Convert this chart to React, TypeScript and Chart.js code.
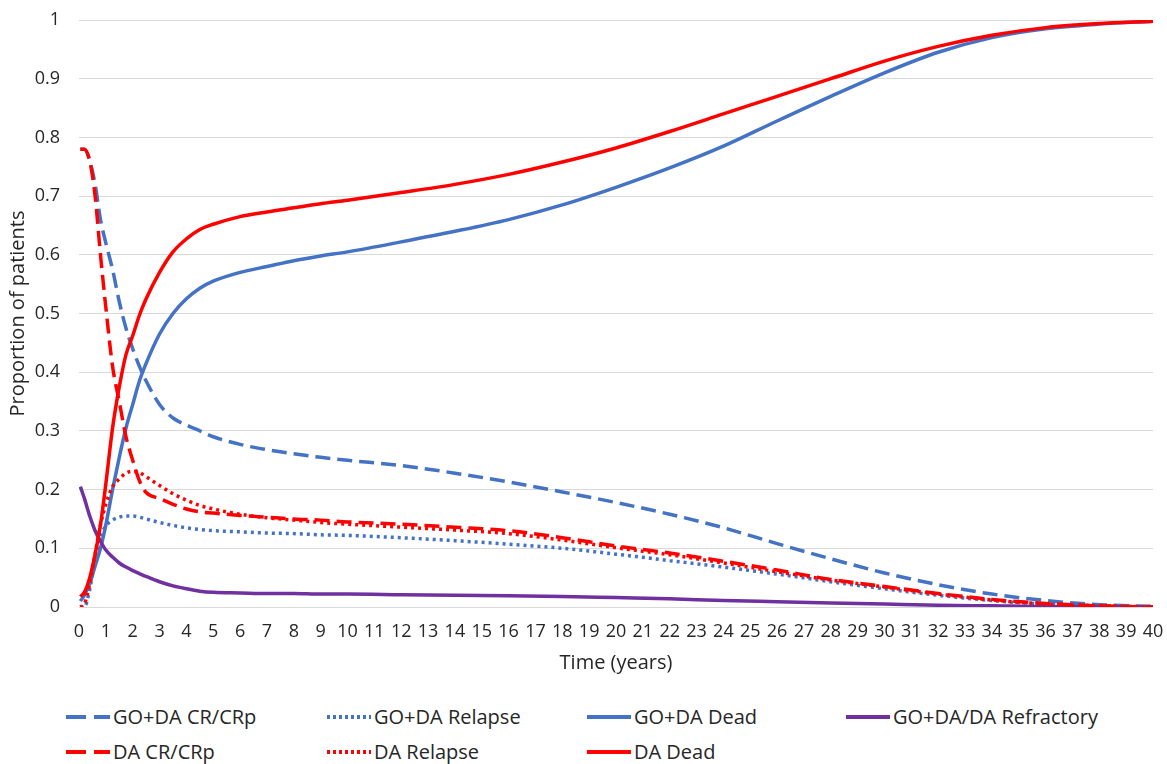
import React, { useEffect, useRef } from "react";
import { Chart, registerables } from "chart.js";

Chart.register(...registerables);

const times = [0.05, 0.2, 0.4, 0.6, 0.8, 1, 1.25, 1.5, 1.75, 2, 2.25, 2.5, 3, 3.5, 4, 4.5, 5, 6, 7, 8, 9, 10, 12, 14, 16, 18, 20, 22, 24, 26, 28, 30, 32, 34, 36, 38, 40];

const goCR = [0.78, 0.78, 0.76, 0.72, 0.66, 0.62, 0.575, 0.52, 0.475, 0.44, 0.41, 0.385, 0.345, 0.322, 0.31, 0.3, 0.29, 0.277, 0.268, 0.261, 0.255, 0.25, 0.241, 0.228, 0.213, 0.196, 0.178, 0.158, 0.135, 0.108, 0.082, 0.058, 0.038, 0.022, 0.011, 0.004, 0.001];
const goRelapse = [0, 0, 0.03, 0.08, 0.12, 0.138, 0.148, 0.153, 0.155, 0.155, 0.153, 0.15, 0.144, 0.139, 0.135, 0.132, 0.13, 0.128, 0.126, 0.125, 0.123, 0.122, 0.118, 0.113, 0.107, 0.1, 0.09, 0.079, 0.068, 0.056, 0.043, 0.031, 0.02, 0.011, 0.005, 0.002, 0];
const goDead = [0.01, 0.02, 0.04, 0.07, 0.1, 0.14, 0.2, 0.255, 0.305, 0.345, 0.385, 0.415, 0.465, 0.5, 0.525, 0.543, 0.555, 0.57, 0.58, 0.59, 0.598, 0.605, 0.622, 0.64, 0.66, 0.685, 0.715, 0.748, 0.785, 0.828, 0.87, 0.91, 0.945, 0.97, 0.985, 0.993, 0.998];
const refractory = [0.205, 0.185, 0.155, 0.13, 0.112, 0.097, 0.085, 0.075, 0.068, 0.062, 0.057, 0.052, 0.043, 0.036, 0.031, 0.027, 0.025, 0.024, 0.023, 0.023, 0.022, 0.022, 0.021, 0.02, 0.019, 0.018, 0.016, 0.014, 0.011, 0.009, 0.007, 0.005, 0.003, 0.002, 0.001, 0.001, 0];
const daCR = [0.78, 0.78, 0.76, 0.7, 0.6, 0.51, 0.41, 0.35, 0.29, 0.25, 0.215, 0.195, 0.185, 0.175, 0.167, 0.162, 0.16, 0.156, 0.153, 0.15, 0.148, 0.145, 0.141, 0.136, 0.13, 0.118, 0.104, 0.092, 0.078, 0.063, 0.047, 0.035, 0.023, 0.013, 0.006, 0.002, 0];
const daRelapse = [0, 0.005, 0.04, 0.09, 0.14, 0.175, 0.205, 0.218, 0.228, 0.231, 0.229, 0.222, 0.207, 0.193, 0.182, 0.173, 0.167, 0.158, 0.152, 0.148, 0.144, 0.141, 0.136, 0.131, 0.125, 0.114, 0.101, 0.089, 0.075, 0.06, 0.046, 0.034, 0.022, 0.012, 0.005, 0.002, 0];
const daDead = [0.018, 0.025, 0.05, 0.09, 0.14, 0.21, 0.305, 0.375, 0.43, 0.462, 0.497, 0.525, 0.57, 0.605, 0.627, 0.643, 0.652, 0.665, 0.673, 0.68, 0.687, 0.693, 0.706, 0.72, 0.737, 0.758, 0.782, 0.81, 0.84, 0.87, 0.9, 0.93, 0.955, 0.974, 0.987, 0.994, 0.998];

const xTicks = Array.from({ length: 41 }, (_, i) => i);

const BLUE = "#4472C4";
const RED = "#FF0000";
const PURPLE = "#7030A0";
const DASH = [15, 7];
const DOT = [3, 4];

const seriesDefs = [
  { label: "GO+DA CR/CRp", values: goCR, color: BLUE, dash: DASH },
  { label: "GO+DA Relapse", values: goRelapse, color: BLUE, dash: DOT },
  { label: "GO+DA Dead", values: goDead, color: BLUE, dash: [] as number[] },
  { label: "GO+DA/DA Refractory", values: refractory, color: PURPLE, dash: [] as number[] },
  { label: "DA CR/CRp", values: daCR, color: RED, dash: DASH },
  { label: "DA Relapse", values: daRelapse, color: RED, dash: DOT },
  { label: "DA Dead", values: daDead, color: RED, dash: [] as number[] },
];

const FONT = "'Open Sans', sans-serif";
const TEXT = "#262626";

const legendCols = [66, 327, 587, 846];
const legendRows = [717, 752];

function LegendItem({ s, x, y }: { s: typeof seriesDefs[number]; x: number; y: number }) {
  const dashArr = s.dash === DASH ? "20 8" : s.dash === DOT ? "3 3" : "none";
  return (
    <div style={{ position: "absolute", left: x, top: y - 14, height: 28, display: "flex", alignItems: "center", whiteSpace: "nowrap" }}>
      <svg width={44} height={10} style={{ display: "block" }}>
        <line x1={0} y1={5} x2={44} y2={5} stroke={s.color} strokeWidth={4} strokeDasharray={dashArr} />
      </svg>
      <span style={{ marginLeft: 3, fontFamily: FONT, fontSize: 20, color: TEXT, lineHeight: "28px" }}>{s.label}</span>
    </div>
  );
}

export default function App() {
  const ref = useRef<HTMLCanvasElement | null>(null);
  useEffect(() => {
    if (!ref.current) return;
    const chart = new Chart(ref.current, {
      type: "line",
      data: {
        datasets: seriesDefs.map((s, i) => ({
          label: s.label,
          data: times.map((t, j) => ({ x: t, y: s.values[j] })),
          borderColor: s.color,
          backgroundColor: s.color,
          borderWidth: 3.5,
          borderDash: s.dash,
          pointRadius: 0,
          fill: false,
          cubicInterpolationMode: "monotone" as const,
          order: seriesDefs.length - i,
        })),
      },
      options: {
        animation: false,
        responsive: false,
        devicePixelRatio: 1,
        layout: { padding: { left: 0, right: 14, top: 20, bottom: 0 } },
        plugins: { legend: { display: false }, tooltip: { enabled: false } },
        scales: {
          x: {
            type: "linear",
            min: 0,
            max: 40,
            afterBuildTicks: (scale: any) => {
              scale.ticks = xTicks.map((v) => ({ value: v }));
            },
            afterFit: (scale: any) => {
              scale.height = 83;
              scale.paddingLeft = 0;
              scale.paddingRight = 0;
            },
            ticks: { autoSkip: false, maxRotation: 0, padding: 14, color: TEXT, font: { family: FONT, size: 18 } },
            grid: { display: false, drawTicks: false },
            border: { display: false },
            title: { display: true, text: "Time (years)", color: TEXT, font: { family: FONT, size: 20 }, padding: { top: 0, bottom: 15 } },
          },
          y: {
            min: 0,
            max: 1,
            afterFit: (scale: any) => {
              scale.width = 79;
              scale.paddingTop = 0;
              scale.paddingBottom = 0;
            },
            ticks: {
              stepSize: 0.1,
              padding: 19,
              color: TEXT,
              font: { family: FONT, size: 18 },
              callback: (v: any) => String(Number(Number(v).toFixed(1))),
            },
            grid: { color: "#d9d9d9", lineWidth: 1, drawTicks: false },
            border: { display: false },
            title: { display: true, text: "Proportion of patients", color: TEXT, font: { family: FONT, size: 20 }, padding: { top: 6, bottom: 0 } },
          },
        },
      },
    } as any);
    return () => chart.destroy();
  }, []);

  return (
    <div style={{ position: "absolute", left: 0, top: 0, width: 1167, height: 764, background: "#fff", overflow: "hidden" }}>
      <canvas ref={ref} width={1167} height={690} style={{ position: "absolute", left: 0, top: 0, width: 1167, height: 690 }} />
      {seriesDefs.map((s, i) => (
        <LegendItem key={s.label} s={s} x={legendCols[i % 4]} y={legendRows[Math.floor(i / 4)]} />
      ))}
    </div>
  );
}
